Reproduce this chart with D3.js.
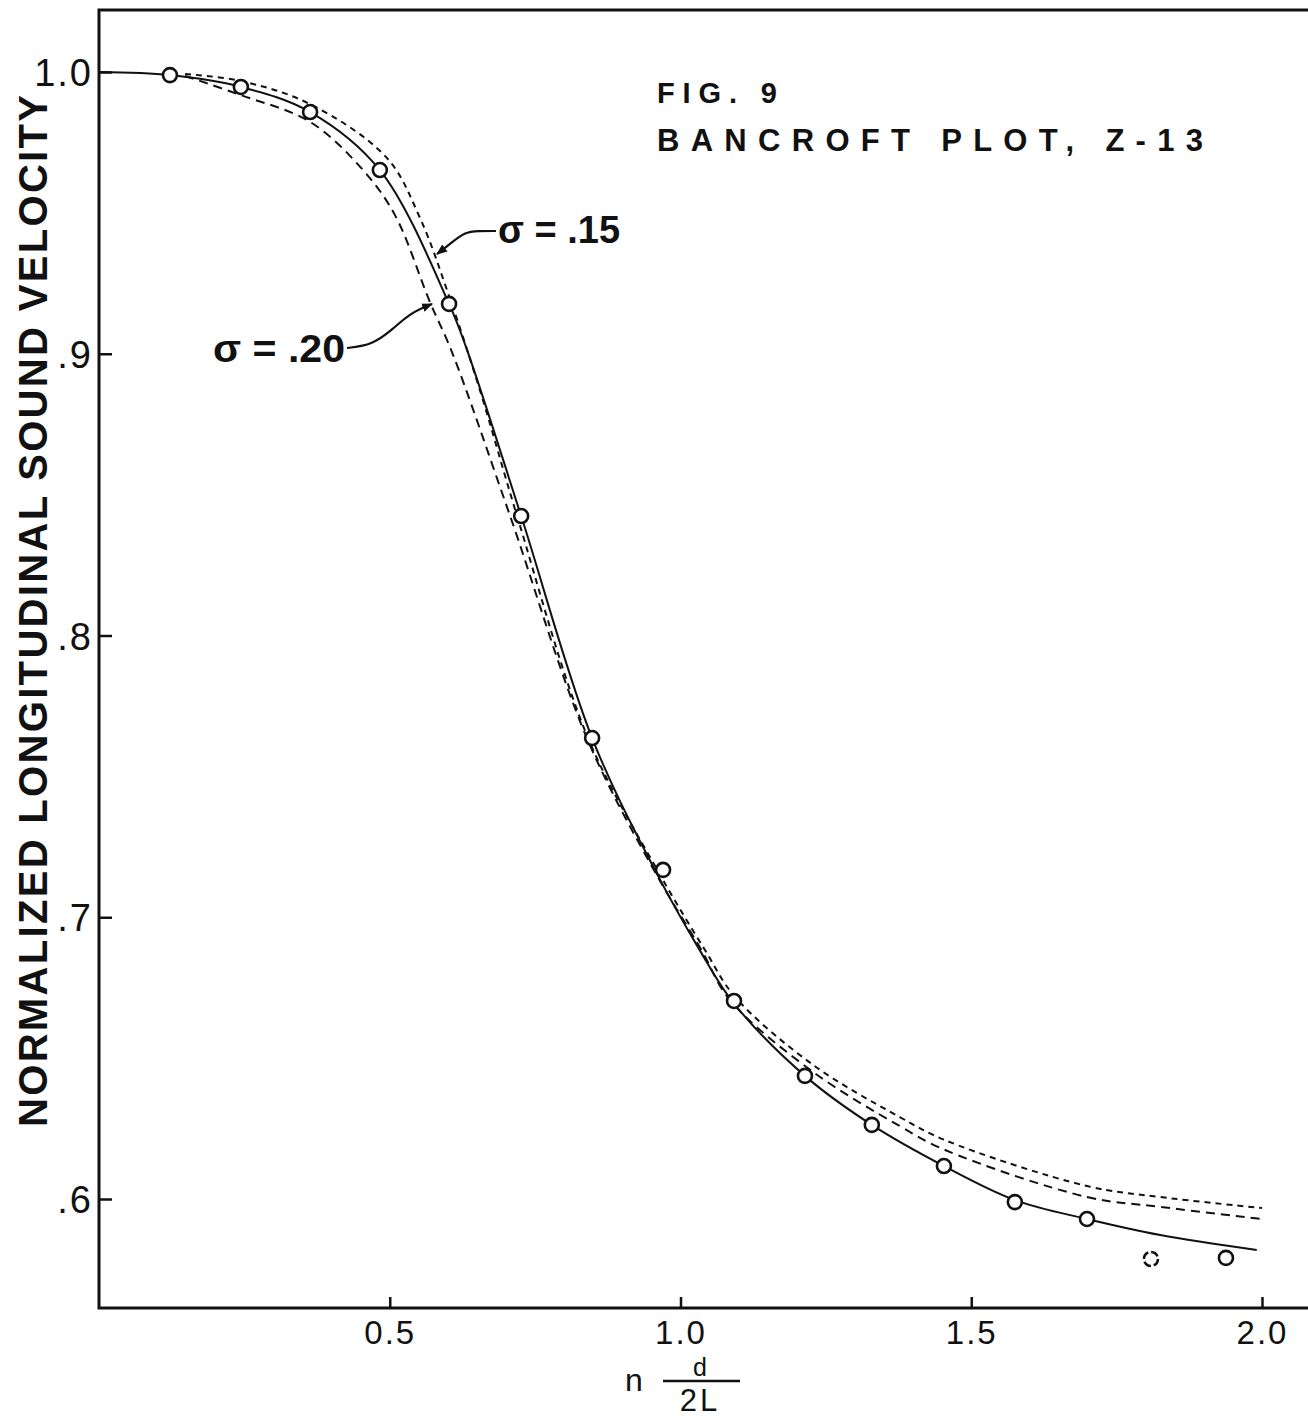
<!DOCTYPE html>
<html>
<head>
<meta charset="utf-8">
<script src="https://cdn.jsdelivr.net/npm/d3@7"></script>
<style>
  body { margin: 0; background: #fff; }
  text { font-family: "Liberation Sans", "DejaVu Sans", sans-serif; fill: #111; }
</style>
</head>
<body>
<svg id="chart" width="1308" height="1418"></svg>
<script>
// measured points, x = n d / 2L, y = normalized velocity
const pointX = [0.122, 0.244, 0.363, 0.483, 0.602, 0.726, 0.848, 0.970, 1.092, 1.214, 1.329, 1.453, 1.575, 1.699, 1.809, 1.938];
const pointY = [0.9989, 0.9947, 0.9858, 0.9652, 0.9177, 0.8424, 0.7636, 0.7168, 0.6703, 0.6437, 0.6263, 0.6117, 0.5989, 0.5929, 0.5787, 0.5791];

// fitted (solid) curve
const fitX = [0, 0.122, 0.244, 0.363, 0.483, 0.602, 0.633, 0.726, 0.848, 0.956, 1.030, 1.090, 1.214, 1.329, 1.453, 1.575, 1.699, 1.825, 1.991];
const fitY = [1.0, 0.9989, 0.9947, 0.9858, 0.9652, 0.9177, 0.9013, 0.8424, 0.7636, 0.7168, 0.6894, 0.6699, 0.6437, 0.6263, 0.6117, 0.5996, 0.5929, 0.5872, 0.5819];

// theoretical curve, sigma = .15
const s15X = [0.148, 0.244, 0.363, 0.495, 0.552, 0.602, 0.655, 0.719, 0.841, 0.960, 1.042, 1.094, 1.228, 1.377, 1.455, 1.699, 1.825, 2.0];
const s15Y = [0.9993, 0.9968, 0.9886, 0.9695, 0.9482, 0.9205, 0.8871, 0.8424, 0.7636, 0.7168, 0.6884, 0.6717, 0.6476, 0.6291, 0.6209, 0.6046, 0.6007, 0.5968];

// theoretical curve, sigma = .20
const s20X = [0.148, 0.244, 0.363, 0.454, 0.509, 0.569, 0.607, 0.707, 0.839, 0.956, 1.036, 1.085, 1.228, 1.377, 1.455, 1.699, 1.825, 2.0];
const s20Y = [0.9986, 0.9918, 0.9823, 0.9652, 0.9492, 0.9184, 0.9006, 0.8424, 0.7636, 0.7161, 0.6884, 0.6706, 0.6451, 0.6259, 0.6174, 0.6007, 0.5972, 0.5929];

const xTicks = [0.5, 1.0, 1.5, 2.0];
const xTickLabels = ["0.5", "1.0", "1.5", "2.0"];
const yTicks = [0.6, 0.7, 0.8, 0.9, 1.0];
const yTickLabels = [".6", ".7", ".8", ".9", "1.0"];

const svg = d3.select("#chart");
const x = d3.scaleLinear().domain([0, 2]).range([99, 1262]);
const y = d3.scaleLinear().domain([0.6, 1.0]).range([1199, 72]);

const zip = (xs, ys) => xs.map((v, i) => ({x: v, y: ys[i]}));
const line = d3.line().x(d => x(d.x)).y(d => y(d.y)).curve(d3.curveCatmullRom.alpha(0.5));

// frame: left, top, bottom (open on the right)
svg.append("path")
   .attr("d", "M1308,10 L99,10 L99,1308 L1308,1308")
   .attr("fill", "none").attr("stroke", "#111").attr("stroke-width", 3);

// x axis ticks (inward)
const xAxis = d3.axisBottom(x).tickValues(xTicks).tickSize(-11)
   .tickFormat((d, i) => xTickLabels[i]).tickPadding(11);
const gx = svg.append("g").attr("transform", "translate(0,1308)").call(xAxis);
gx.select(".domain").remove();
gx.selectAll("line").attr("stroke", "#111").attr("stroke-width", 2.5);
gx.selectAll("text").attr("font-size", 33).attr("dy", "0.75em").attr("letter-spacing", 2)
   .attr("font-family", "DejaVu Sans");

// y axis ticks (inward)
const yAxis = d3.axisLeft(y).tickValues(yTicks).tickSize(-13)
   .tickFormat((d, i) => yTickLabels[i]).tickPadding(6);
const gy = svg.append("g").attr("transform", "translate(99,0)").call(yAxis);
gy.select(".domain").remove();
gy.selectAll("line").attr("stroke", "#111").attr("stroke-width", 2.5);
gy.selectAll("text").attr("font-size", 38).attr("dy", "0.36em").attr("letter-spacing", 2)
   .attr("font-family", "DejaVu Sans");

// curves
svg.append("path").attr("d", line(zip(s15X, s15Y)))
   .attr("fill", "none").attr("stroke", "#111").attr("stroke-width", 2)
   .attr("stroke-dasharray", "6,5");
svg.append("path").attr("d", line(zip(s20X, s20Y)))
   .attr("fill", "none").attr("stroke", "#111").attr("stroke-width", 2)
   .attr("stroke-dasharray", "9,6");
svg.append("path").attr("d", line(zip(fitX, fitY)))
   .attr("fill", "none").attr("stroke", "#111").attr("stroke-width", 2);

// data circles
svg.append("g").selectAll("circle")
   .data(zip(pointX, pointY))
   .join("circle")
   .attr("cx", d => x(d.x)).attr("cy", d => y(d.y)).attr("r", 7)
   .attr("fill", "#fff").attr("stroke", "#111").attr("stroke-width", 2.6)
   .attr("stroke-dasharray", (d, i) => i === 14 ? "8,3" : null);

// arrow marker
svg.append("defs").append("marker")
   .attr("id", "arr").attr("viewBox", "0 0 10 10").attr("refX", 9).attr("refY", 5)
   .attr("markerWidth", 5).attr("markerHeight", 5).attr("orient", "auto")
   .append("path").attr("d", "M0,1 L10,5 L0,9 Z").attr("fill", "#111");

const lead = d3.line().curve(d3.curveBasis);
svg.append("path").attr("d", lead([[496, 231], [478, 231], [465, 232], [450, 244], [437, 254]]))
   .attr("fill", "none").attr("stroke", "#111").attr("stroke-width", 2.2).attr("marker-end", "url(#arr)");
svg.append("path").attr("d", lead([[347, 348], [372, 345], [392, 330], [410, 313], [432, 304]]))
   .attr("fill", "none").attr("stroke", "#111").attr("stroke-width", 2.2).attr("marker-end", "url(#arr)");

// curve labels
svg.append("text").attr("x", 498).attr("y", 243).attr("font-size", 38).attr("font-weight", "bold")
   .attr("textLength", 122).attr("lengthAdjust", "spacingAndGlyphs").text("σ = .15");
svg.append("text").attr("x", 213).attr("y", 362).attr("font-size", 38).attr("font-weight", "bold")
   .attr("textLength", 132).attr("lengthAdjust", "spacingAndGlyphs").text("σ = .20");

// title
svg.append("text").attr("x", 657).attr("y", 103).attr("font-size", 29).attr("font-weight", "bold")
   .attr("font-family", "DejaVu Sans")
   .attr("textLength", 120).attr("lengthAdjust", "spacing").text("FIG. 9");
svg.append("text").attr("x", 657).attr("y", 151).attr("font-size", 31).attr("font-weight", "bold")
   .attr("font-family", "DejaVu Sans")
   .attr("textLength", 546).attr("lengthAdjust", "spacing").text("BANCROFT PLOT, Z-13");

// y axis title
svg.append("text")
   .attr("transform", "translate(47,1127) rotate(-90)")
   .attr("font-size", 40).attr("font-weight", "bold")
   .attr("textLength", 1032).attr("lengthAdjust", "spacing")
   .text("NORMALIZED LONGITUDINAL SOUND VELOCITY");

// x axis title: n d/2L
svg.append("text").attr("x", 625).attr("y", 1391).attr("font-size", 32).attr("font-family", "DejaVu Sans").text("n");
svg.append("text").attr("x", 700).attr("y", 1376).attr("font-size", 25).attr("font-family", "DejaVu Sans")
   .attr("text-anchor", "middle").text("d");
svg.append("line").attr("x1", 663).attr("x2", 740).attr("y1", 1381).attr("y2", 1381)
   .attr("stroke", "#111").attr("stroke-width", 2.5);
svg.append("text").attr("x", 700).attr("y", 1411).attr("font-size", 31).attr("font-family", "DejaVu Sans")
   .attr("text-anchor", "middle").attr("letter-spacing", 3).text("2L");
</script>
</body>
</html>
